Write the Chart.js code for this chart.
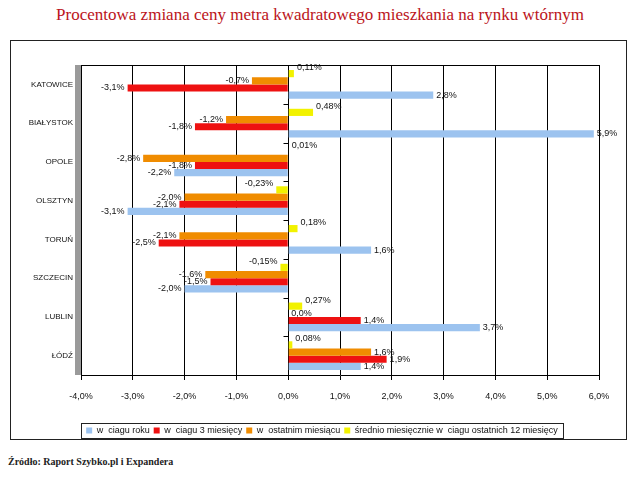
<!DOCTYPE html>
<html>
<head>
<meta charset="utf-8">
<script src="https://cdn.jsdelivr.net/npm/chart.js@4.4.1/dist/chart.umd.min.js"></script>
<style>
body{margin:0;background:#fff;width:640px;height:485px;position:relative;overflow:hidden;}
#title{position:absolute;top:5px;left:0;width:640px;text-align:center;color:#bb1420;font:17px "Liberation Serif",serif;}
#box{position:absolute;left:10px;top:40px;width:615px;height:398px;border:1px solid #222;}
#src{position:absolute;left:8px;top:456px;font:bold 10px "Liberation Serif",serif;color:#222;}
</style>
</head>
<body>
<div id="title">Procentowa zmiana ceny metra kwadratowego mieszkania na rynku wtórnym</div>
<div id="box"><canvas id="c" width="615" height="398"></canvas></div>
<div id="src">Źródło: Raport Szybko.pl i Expandera</div>
<script>
const cities = ['KATOWICE','BIAŁYSTOK','OPOLE','OLSZTYN','TORUŃ','SZCZECIN','LUBLIN','ŁÓDŹ'];
const yearChange = [2.8, 5.9, -2.2, -3.1, 1.6, -2.0, 3.7, 1.4];
const threeMonths = [-3.1, -1.8, -1.8, -2.1, -2.5, -1.5, 1.4, 1.9];
const lastMonth = [-0.7, -1.2, -2.8, -2.0, -2.1, -1.6, 0.0, 1.6];
const monthlyAvg = [0.11, 0.48, 0.01, -0.23, 0.18, -0.15, 0.27, 0.08];
const xTicks = [-4, -3, -2, -1, 0, 1, 2, 3, 4, 5, 6];
const names = ['w  ciagu roku', 'w  ciagu 3 miesięcy', 'w  ostatnim miesiącu', 'średnio miesięcznie w  ciagu ostatnich 12 miesięcy'];

const pct = (v, d) => v.toFixed(d).replace('.', ',') + '%';

// gray side wall, zero axis with category ticks, top frame, value labels, legend frame
const decor = {
  id: 'decor',
  afterLayout(chart) {
    // legend sits a bit right of centre in the original
    const lg = chart.legend;
    if (lg) { lg.left += 12; lg.right += 12; }
  },
  beforeDatasetsDraw(chart) {
    const {ctx, chartArea: a, scales: {x}} = chart;
    ctx.save();
    ctx.fillStyle = '#9a9a9a';
    ctx.fillRect(a.left - 6, a.top, 6, a.bottom - a.top);
    ctx.strokeStyle = '#000';
    ctx.lineWidth = 1;
    ctx.beginPath();
    ctx.moveTo(a.left, a.top + 0.5); ctx.lineTo(a.right, a.top + 0.5);
    const zx = Math.round(x.getPixelForValue(0)) + 0.5;
    ctx.moveTo(zx, a.top); ctx.lineTo(zx, a.bottom);
    const step = (a.bottom - a.top) / cities.length;
    for (let i = 0; i <= cities.length; i++) {
      const yy = Math.round(a.top + i * step) + 0.5;
      ctx.moveTo(zx - 5, yy); ctx.lineTo(zx, yy);
    }
    ctx.stroke();
    ctx.restore();
  },
  afterDatasetsDraw(chart) {
    const {ctx} = chart;
    ctx.save();
    ctx.font = '9px "Liberation Sans", Arial, sans-serif';
    ctx.fillStyle = '#111';
    ctx.textBaseline = 'middle';
    chart.data.datasets.forEach((ds, di) => {
      const meta = chart.getDatasetMeta(di);
      meta.data.forEach((el, i) => {
        const v = ds.data[i];
        const txt = pct(v, ds.decimals);
        let yy = el.y;
        if (di === 0) yy -= 6;
        if (v >= 0) { ctx.textAlign = 'left'; ctx.fillText(txt, el.x + 3, yy); }
        else { ctx.textAlign = 'right'; ctx.fillText(txt, el.x - 3, yy); }
      });
    });
    ctx.restore();
  },
  afterDraw(chart) {
    const lg = chart.legend;
    if (!lg || !lg.legendHitBoxes.length) return;
    const hb = lg.legendHitBoxes;
    const l = Math.min(...hb.map(h => h.left)) - 5;
    const r = Math.max(...hb.map(h => h.left + h.width)) + 5;
    const t = Math.min(...hb.map(h => h.top)) - 3;
    const b = Math.max(...hb.map(h => h.top + h.height)) + 3;
    const ctx = chart.ctx;
    ctx.save();
    ctx.strokeStyle = '#222';
    ctx.lineWidth = 1;
    ctx.strokeRect(Math.round(l) + 0.5, Math.round(t) + 0.5, Math.round(r - l), Math.round(b - t));
    ctx.restore();
  }
};

new Chart(document.getElementById('c'), {
  type: 'bar',
  data: {
    labels: cities,
    datasets: [
      {label: names[3], data: monthlyAvg, backgroundColor: '#f2f200', decimals: 2},
      {label: names[2], data: lastMonth, backgroundColor: '#f08c00', decimals: 1},
      {label: names[1], data: threeMonths, backgroundColor: '#ee1111', decimals: 1},
      {label: names[0], data: yearChange, backgroundColor: '#9cc3ef', decimals: 1}
    ]
  },
  options: {
    indexAxis: 'y',
    responsive: false,
    animation: false,
    layout: {padding: {left: 10, right: 27, top: 24, bottom: -6}},
    datasets: {bar: {categoryPercentage: 0.74, barPercentage: 1.0}},
    scales: {
      x: {
        min: -4, max: 6,
        afterBuildTicks: s => { s.ticks = xTicks.map(v => ({value: v})); },
        afterFit: s => { s.height = 47; },
        grid: {color: '#000', lineWidth: 1, tickLength: 5},
        border: {display: true, color: '#000'},
        ticks: {
          color: '#111', padding: 11,
          font: {family: '"Liberation Sans", Arial, sans-serif', size: 9},
          callback: v => pct(v, 1)
        }
      },
      y: {
        afterFit: s => { s.width = 60; },
        grid: {display: false},
        border: {display: false},
        ticks: {
          color: '#111', padding: 0,
          font: {family: '"Liberation Sans", Arial, sans-serif', size: 8}
        }
      }
    },
    plugins: {
      legend: {
        position: 'bottom',
        reverse: true,
        labels: {
          boxWidth: 6, boxHeight: 6, padding: 4, color: '#111',
          font: {family: '"Liberation Sans", Arial, sans-serif', size: 9}
        }
      },
      tooltip: {enabled: false}
    }
  },
  plugins: [decor]
});
</script>
</body>
</html>
